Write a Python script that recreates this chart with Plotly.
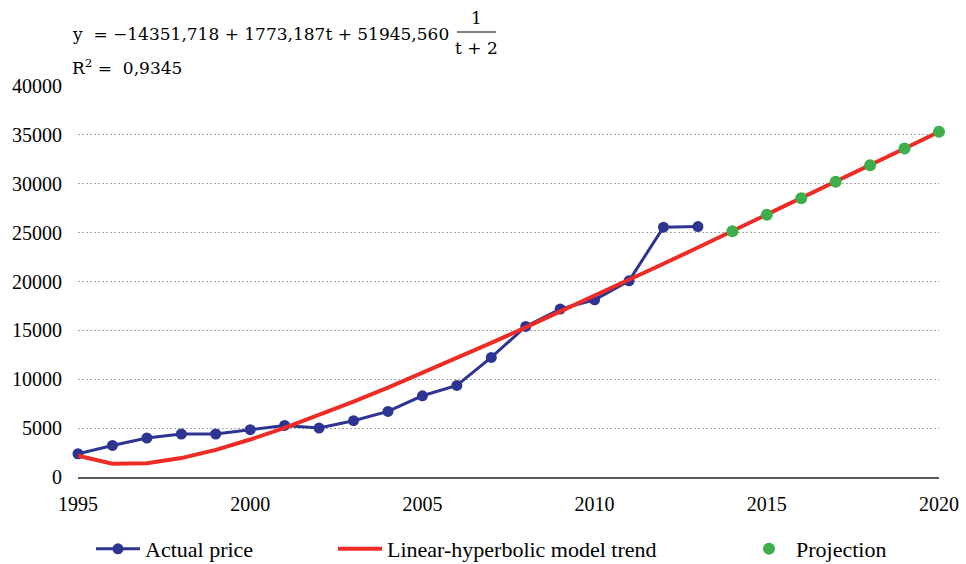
import plotly.graph_objects as go

# Observed prices
years_actual = list(range(1995, 2014))
price_actual = [2380, 3230, 3990, 4400, 4400, 4840, 5280, 5010, 5760, 6710,
                8310, 9370, 12230, 15400, 17180, 18130, 20070, 25560, 25620]

# Linear-hyperbolic model trend, t = year - 1993
years_trend = list(range(1995, 2021))
price_trend = [2181, 1357, 1399, 1935, 2781, 3832, 5028, 6329, 7709, 9149,
               10637, 12163, 13720, 15302, 16905, 18526, 20163, 21812, 23473,
               25144, 26823, 28509, 30203, 31902, 33606, 35316]

# Projected values
years_proj = list(range(2014, 2021))
price_proj = [25144, 26823, 28509, 30203, 31902, 33606, 35316]

y_ticks = [0, 5000, 10000, 15000, 20000, 25000, 30000, 35000, 40000]
y_labels = [str(v) for v in y_ticks]
x_ticks = [1995, 2000, 2005, 2010, 2015, 2020]

W, H = 966, 564
L, R, T, B = 78, 27, 86, 87
PW, PH = W - L - R, H - T - B


def px_x(p):
    return (p - L) / PW


def px_y(p):
    return (H - B - p) / PH


BLUE = "#2E3492"
RED = "#EE2B25"
GREEN = "#3DAE49"
SERIF = "Liberation Serif"
MATH = "DejaVu Serif"

fig = go.Figure()
fig.add_trace(go.Scatter(
    x=years_actual, y=price_actual, name="Actual price", mode="lines+markers",
    line=dict(color=BLUE, width=3), marker=dict(color=BLUE, size=11),
    cliponaxis=False, legend="legend"))
fig.add_trace(go.Scatter(
    x=years_trend, y=price_trend, name="Linear-hyperbolic model trend",
    mode="lines", line=dict(color=RED, width=4),
    cliponaxis=False, legend="legend2"))
fig.add_trace(go.Scatter(
    x=years_proj, y=price_proj, name="Projection", mode="markers",
    marker=dict(color=GREEN, size=12), cliponaxis=False, legend="legend3"))

leg_common = dict(orientation="h", yanchor="middle", xanchor="left",
                  y=px_y(549), bgcolor="rgba(0,0,0,0)", itemwidth=44,
                  font=dict(family=SERIF, size=22, color="#000"))

fig.update_layout(
    width=W, height=H,
    margin=dict(l=L, r=R, t=T, b=B, autoexpand=False),
    paper_bgcolor="white", plot_bgcolor="white",
    font=dict(family=SERIF, size=20, color="#000"),
    showlegend=True,
    legend=dict(x=px_x(91), **leg_common),
    legend2=dict(x=px_x(333), **leg_common),
    legend3=dict(x=px_x(742), **leg_common),
    xaxis=dict(range=[1995, 2020], tickvals=x_ticks, showgrid=False,
               zeroline=False, showline=True, linecolor="#595959",
               linewidth=2, ticks="", ticklabelstandoff=8, automargin=False,
               tickfont=dict(family=SERIF, size=20, color="#000")),
    yaxis=dict(range=[0, 40000], tickvals=y_ticks, ticktext=y_labels,
               showgrid=True, gridcolor="#A6A6A6", gridwidth=1,
               griddash="2px,2px", zeroline=False, showline=False, ticks="",
               ticklabelstandoff=15, automargin=False,
               tickfont=dict(family=SERIF, size=20, color="#000")),
)

# Regression equation above the plot
eq_font = dict(family=MATH, size=17, color="#000")
fig.add_annotation(xref="paper", yref="paper", x=px_x(70), y=px_y(34),
                   xanchor="left", yanchor="middle", showarrow=False,
                   text="y  = \u221214351,718 + 1773,187t + 51945,560",
                   font=eq_font)
fig.add_annotation(xref="paper", yref="paper", x=px_x(476), y=px_y(18),
                   xanchor="center", yanchor="middle", showarrow=False,
                   text="1", font=eq_font)
fig.add_annotation(xref="paper", yref="paper", x=px_x(476), y=px_y(48),
                   xanchor="center", yanchor="middle", showarrow=False,
                   text="t + 2", font=eq_font)
fig.add_shape(type="line", xref="paper", yref="paper",
              x0=px_x(457), x1=px_x(496), y0=px_y(32), y1=px_y(32),
              line=dict(color="#000", width=1.2))
fig.add_annotation(xref="paper", yref="paper", x=px_x(70), y=px_y(67),
                   xanchor="left", yanchor="middle", showarrow=False,
                   text="R<sup>2</sup> =  0,9345", font=eq_font)

fig.write_html("out.html")
